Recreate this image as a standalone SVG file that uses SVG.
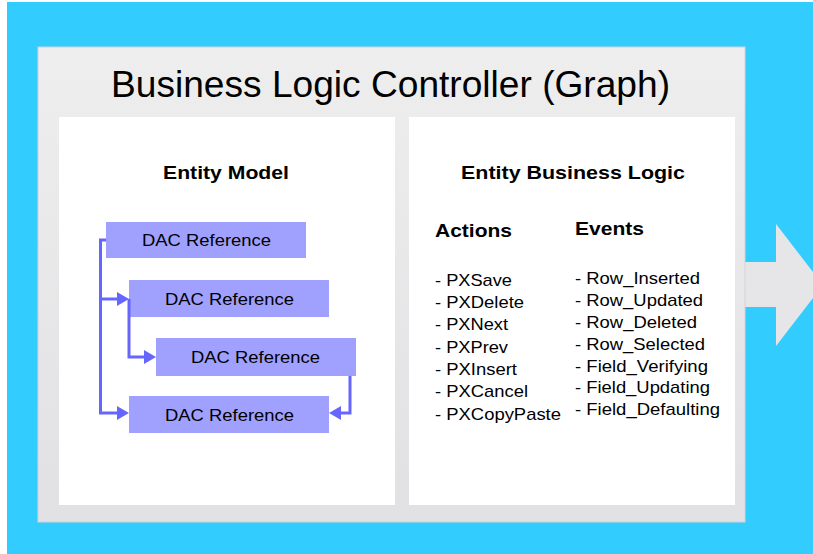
<svg xmlns="http://www.w3.org/2000/svg" width="813" height="554" viewBox="0 0 813 554">
<style>
text{font-family:"Liberation Sans",Arial,sans-serif;fill:#000}
.title{font-size:37px}
.head{font-size:18.5px;font-weight:bold}
.item{font-size:17px}
.dac{font-size:17px}
.box{fill:#A0A0FF}
.white{fill:#FFFFFF}
.conn{fill:none;stroke:#6666FF;stroke-width:3}
</style>
<defs>
<linearGradient id="gp" x1="0" y1="0" x2="0" y2="1">
<stop offset="0" stop-color="#EEEEEE"/>
<stop offset="1" stop-color="#E1E1E4"/>
</linearGradient>
<marker id="ah" markerUnits="userSpaceOnUse" markerWidth="13" markerHeight="14" refX="3" refY="7" orient="auto">
<path d="M0,0 L12,7 L0,14 z" fill="#6666FF"/>
</marker>
</defs>
<rect x="0" y="0" width="813" height="554" fill="#FFFFFF"/>
<rect id="background" x="7" y="2" width="806" height="552" fill="#33CCFF"/>
<g id="flow-arrow">
<polygon points="743,262 776,262 776,224 823,285 776,346 776,307 743,307" fill="#E6E6E8"/>
</g>
<g id="controller">
<rect x="38" y="47" width="707" height="475" fill="url(#gp)" stroke="#D2D2DA" stroke-width="1"/>
<text class="title" x="111" y="97" textLength="559" lengthAdjust="spacingAndGlyphs">Business Logic Controller (Graph)</text>
</g>
<g id="entity-model">
<rect class="white" x="59" y="117" width="336" height="388"/>
<text class="head" x="163" y="179" textLength="126" lengthAdjust="spacingAndGlyphs">Entity Model</text>
</g>
<g id="entity-business-logic">
<rect class="white" x="409" y="117" width="326" height="388"/>
<text class="head" x="461" y="179" textLength="224" lengthAdjust="spacingAndGlyphs">Entity Business Logic</text>
<text class="head" x="435" y="237" textLength="77" lengthAdjust="spacingAndGlyphs">Actions</text>
<text class="head" x="575" y="235" textLength="69" lengthAdjust="spacingAndGlyphs">Events</text>
<g id="actions">
<text class="item" x="435" y="286" textLength="77" lengthAdjust="spacingAndGlyphs">- PXSave</text>
<text class="item" x="435" y="308" textLength="89" lengthAdjust="spacingAndGlyphs">- PXDelete</text>
<text class="item" x="435" y="330" textLength="73" lengthAdjust="spacingAndGlyphs">- PXNext</text>
<text class="item" x="435" y="353" textLength="73" lengthAdjust="spacingAndGlyphs">- PXPrev</text>
<text class="item" x="435" y="375" textLength="82" lengthAdjust="spacingAndGlyphs">- PXInsert</text>
<text class="item" x="435" y="397" textLength="93" lengthAdjust="spacingAndGlyphs">- PXCancel</text>
<text class="item" x="435" y="420" textLength="126" lengthAdjust="spacingAndGlyphs">- PXCopyPaste</text>
</g>
<g id="events">
<text class="item" x="575" y="284" textLength="125" lengthAdjust="spacingAndGlyphs">- Row_Inserted</text>
<text class="item" x="575" y="306" textLength="128" lengthAdjust="spacingAndGlyphs">- Row_Updated</text>
<text class="item" x="575" y="328" textLength="122" lengthAdjust="spacingAndGlyphs">- Row_Deleted</text>
<text class="item" x="575" y="350" textLength="130" lengthAdjust="spacingAndGlyphs">- Row_Selected</text>
<text class="item" x="575" y="372" textLength="133" lengthAdjust="spacingAndGlyphs">- Field_Verifying</text>
<text class="item" x="575" y="393" textLength="135" lengthAdjust="spacingAndGlyphs">- Field_Updating</text>
<text class="item" x="575" y="415" textLength="145" lengthAdjust="spacingAndGlyphs">- Field_Defaulting</text>
</g>
</g>
<g id="dac1">
<rect class="box" x="106" y="222" width="200" height="36"/>
<text class="dac" x="142" y="246" textLength="129" lengthAdjust="spacingAndGlyphs">DAC Reference</text>
</g>
<g id="dac2">
<rect class="box" x="129" y="280" width="200" height="37"/>
<text class="dac" x="165" y="305" textLength="129" lengthAdjust="spacingAndGlyphs">DAC Reference</text>
</g>
<g id="dac3">
<rect class="box" x="156" y="338" width="200" height="38"/>
<text class="dac" x="191" y="363" textLength="129" lengthAdjust="spacingAndGlyphs">DAC Reference</text>
</g>
<g id="dac4">
<rect class="box" x="129" y="396" width="200" height="37"/>
<text class="dac" x="165" y="421" textLength="129" lengthAdjust="spacingAndGlyphs">DAC Reference</text>
</g>
<g id="connectors">
<path class="conn" d="M106,240 H100.5 V413 H120" marker-end="url(#ah)"/>
<path class="conn" d="M100.5,299 H120" marker-end="url(#ah)"/>
<path class="conn" d="M129,299 V357 H147" marker-end="url(#ah)"/>
<path class="conn" d="M350,376 V413 H338" marker-end="url(#ah)"/>
</g>
</svg>
